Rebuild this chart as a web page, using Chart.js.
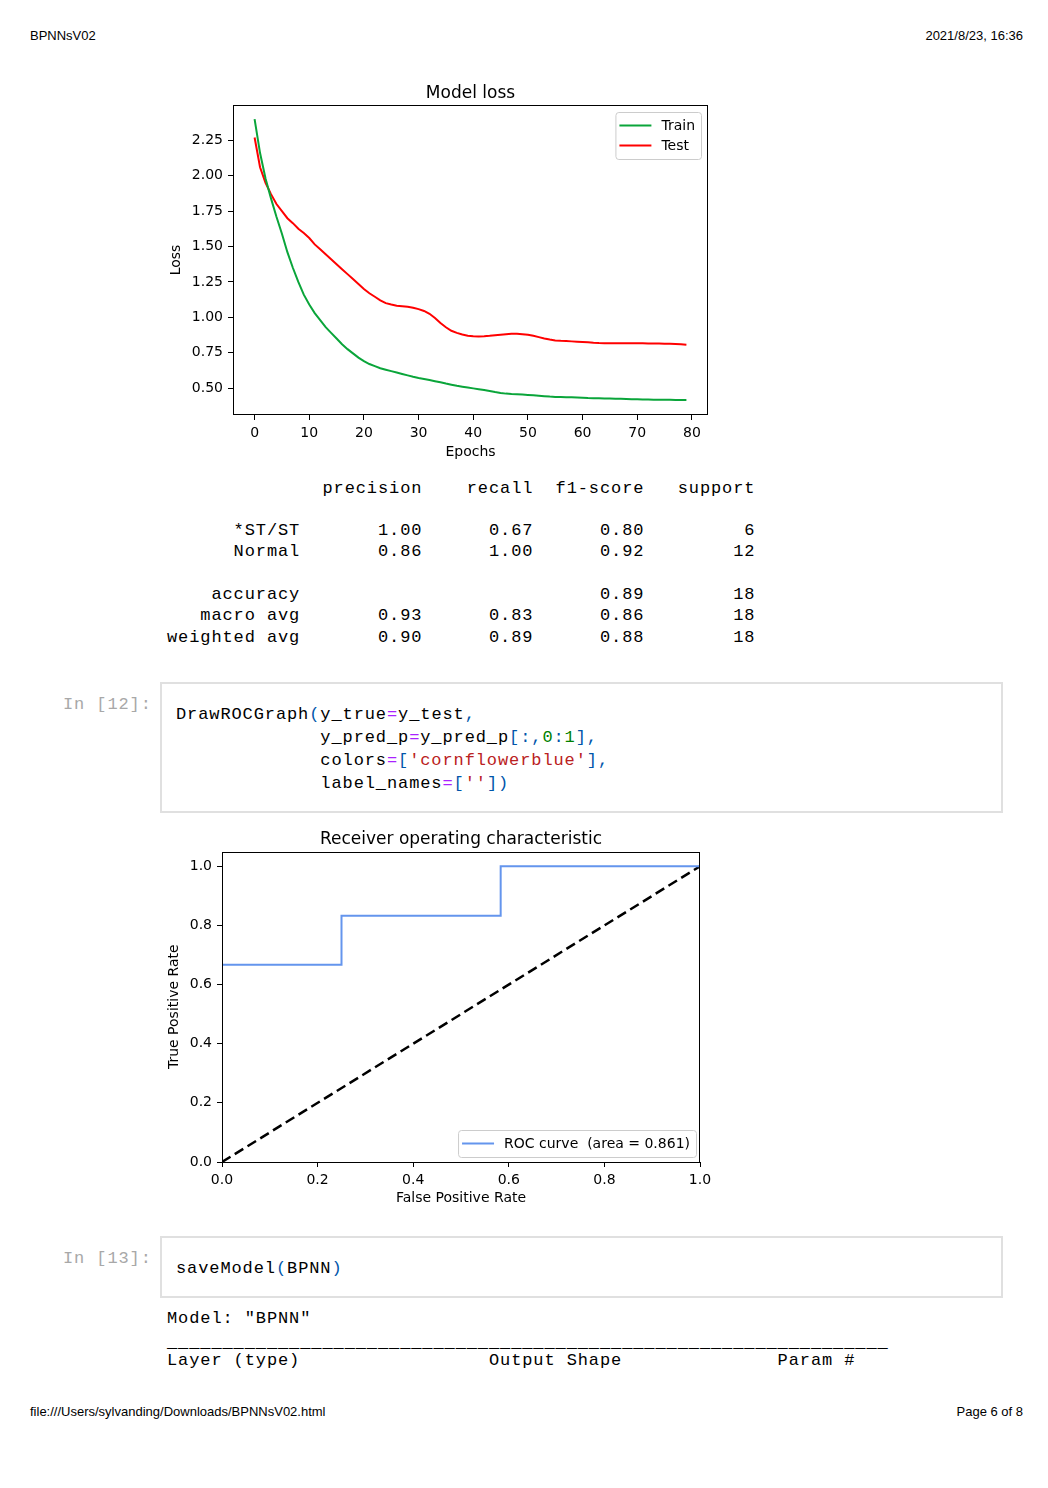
<!DOCTYPE html>
<html>
<head>
<meta charset="utf-8">
<title>BPNNsV02</title>
<script src="https://cdn.jsdelivr.net/npm/chart.js@4.4.1/dist/chart.umd.min.js"></script>
<style>
  body { margin: 0; background: #fff; width: 1048px; height: 1488px; position: relative; font-family: "Liberation Sans", Arial, sans-serif; }
  .hdr { position: absolute; font-size: 13px; line-height: 15px; color: #000; white-space: nowrap; }
  pre { position: absolute; margin: 0; font-family: "Liberation Mono", monospace; font-size: 17px; letter-spacing: 0.9px; line-height: 21.3px; color: #000; }
  pre.code { line-height: 23px; }
  .cell { position: absolute; left: 160px; width: 843px; border: 2px solid #e0e0e0; box-sizing: border-box; }
  .prompt { color: #a8a8a8; }
  .op { color: #aa22ff; }
  .p { color: #0055aa; }
  .n { color: #008000; }
  .s { color: #ba2121; }
  .rule { position: relative; top: 3px; }
  .chart { position: absolute; left: 160px; width: 560px; height: 400px; }
</style>
</head>
<body>

<div class="hdr" style="left:30px; top:28px;">BPNNsV02</div>
<div class="hdr" style="right:25px; top:28px;">2021/8/23, 16:36</div>

<div class="chart" style="top:70px;"><canvas id="lossChart"></canvas></div>

<pre style="left:167px; top:477.5px;">              precision    recall  f1-score   support

      *ST/ST       1.00      0.67      0.80         6
      Normal       0.86      1.00      0.92        12

    accuracy                           0.89        18
   macro avg       0.93      0.83      0.86        18
weighted avg       0.90      0.89      0.88        18</pre>

<pre class="code prompt" style="left:63px; top:692.5px;">In [12]:</pre>
<div class="cell" style="top:682px; height:131px;"></div>
<pre class="code" style="left:176px; top:702.5px;">DrawROCGraph<span class="p">(</span>y_true<span class="op">=</span>y_test<span class="p">,</span>
             y_pred_p<span class="op">=</span>y_pred_p<span class="p">[:,</span><span class="n">0</span><span class="p">:</span><span class="n">1</span><span class="p">],</span>
             colors<span class="op">=</span><span class="p">[</span><span class="s">'cornflowerblue'</span><span class="p">],</span>
             label_names<span class="op">=</span><span class="p">[</span><span class="s">''</span><span class="p">])</span></pre>

<div class="chart" style="top:815px;"><canvas id="rocChart"></canvas></div>

<pre class="code prompt" style="left:63px; top:1246.5px;">In [13]:</pre>
<div class="cell" style="top:1236px; height:62px;"></div>
<pre class="code" style="left:176px; top:1256.5px;">saveModel<span class="p">(</span>BPNN<span class="p">)</span></pre>

<pre style="left:167px; top:1307.5px;">Model: "BPNN"
<span class="rule">_________________________________________________________________</span>
Layer (type)                 Output Shape              Param #   </pre>

<div class="hdr" style="left:30px; top:1404px;">file:///Users/sylvanding/Downloads/BPNNsV02.html</div>
<div class="hdr" style="right:25px; top:1404px;">Page 6 of 8</div>

<script>
// loss history
const epochs = [0, 1, 2, 3, 4, 5, 6, 7, 8, 9, 10, 11, 12, 13, 14, 15, 16, 17, 18, 19,
  20, 21, 22, 23, 24, 25, 26, 27, 28, 29, 30, 31, 32, 33, 34, 35, 36, 37, 38, 39,
  40, 41, 42, 43, 44, 45, 46, 47, 48, 49, 50, 51, 52, 53, 54, 55, 56, 57, 58, 59,
  60, 61, 62, 63, 64, 65, 66, 67, 68, 69, 70, 71, 72, 73, 74, 75, 76, 77, 78, 79];

const trainLoss = [2.40, 2.16, 1.98, 1.84, 1.71, 1.59, 1.46, 1.35, 1.25, 1.16,
  1.09, 1.03, 0.98, 0.93, 0.89, 0.85, 0.81, 0.775, 0.745, 0.715,
  0.69, 0.67, 0.655, 0.64, 0.63, 0.62, 0.61, 0.60, 0.59, 0.58,
  0.572, 0.565, 0.557, 0.549, 0.541, 0.532, 0.524, 0.516, 0.510, 0.504,
  0.498, 0.492, 0.486, 0.479, 0.472, 0.466, 0.461, 0.458, 0.456, 0.454,
  0.452, 0.449, 0.446, 0.443, 0.440, 0.438, 0.437, 0.436, 0.436, 0.434,
  0.432, 0.430, 0.429, 0.428, 0.427, 0.426, 0.425, 0.424, 0.423, 0.422,
  0.421, 0.420, 0.419, 0.418, 0.418, 0.417, 0.417, 0.416, 0.416, 0.416];

const testLoss = [2.27, 2.06, 1.95, 1.87, 1.80, 1.75, 1.70, 1.665, 1.625, 1.595,
  1.56, 1.515, 1.48, 1.445, 1.41, 1.375, 1.34, 1.305, 1.27, 1.235,
  1.20, 1.17, 1.145, 1.12, 1.10, 1.09, 1.082, 1.078, 1.074, 1.068,
  1.058, 1.045, 1.025, 0.995, 0.96, 0.93, 0.905, 0.89, 0.878, 0.87,
  0.866, 0.865, 0.866, 0.869, 0.873, 0.877, 0.881, 0.884, 0.884, 0.881,
  0.876, 0.869, 0.86, 0.851, 0.843, 0.837, 0.834, 0.832, 0.830, 0.828,
  0.826, 0.823, 0.820, 0.818, 0.817, 0.816, 0.816, 0.816, 0.816, 0.816,
  0.816, 0.816, 0.815, 0.815, 0.815, 0.814, 0.813, 0.812, 0.810, 0.807];

const lossTicksX = [0, 10, 20, 30, 40, 50, 60, 70, 80];
const lossTicksY = [0.50, 0.75, 1.00, 1.25, 1.50, 1.75, 2.00, 2.25];

// ROC curve points
const rocFpr = [0, 0, 0.25, 0.25, 0.583, 0.583, 1];
const rocTpr = [0, 0.667, 0.667, 0.833, 0.833, 1, 1];
const chanceFpr = [0, 1];
const chanceTpr = [0, 1];
const rocArea = 0.861;
const rocTicks = [0, 0.2, 0.4, 0.6, 0.8, 1.0];

Chart.defaults.font.family = "'DejaVu Sans', sans-serif";
Chart.defaults.font.size = 14;
Chart.defaults.color = '#000';

// matplotlib-ish frame plus a legend box inside the axes
const frameAndLegend = {
  id: 'frameAndLegend',
  afterDatasetsDraw(chart, args, opts) {
    const { ctx, chartArea: a } = chart;
    ctx.save();
    ctx.strokeStyle = '#000';
    ctx.lineWidth = 1;
    ctx.strokeRect(Math.round(a.left) + 0.5, Math.round(a.top) + 0.5,
      Math.round(a.right - a.left) - 1, Math.round(a.bottom - a.top) - 1);

    const items = chart.data.datasets.filter(d => d.label);
    ctx.font = "14px 'DejaVu Sans', sans-serif";
    const textW = Math.max(...items.map(d => ctx.measureText(d.label).width));
    const w = 4 + 32 + 10 + textW + 6;
    const h = 7 + 20 * items.length;
    const x = a.right - opts.dx - w;
    const y = opts.corner === 'top' ? a.top + opts.dy : a.bottom - opts.dy - h;
    ctx.beginPath();
    ctx.roundRect(x + 0.5, y + 0.5, w, h, 3);
    ctx.fillStyle = 'rgba(255,255,255,0.8)';
    ctx.fill();
    ctx.strokeStyle = '#cccccc';
    ctx.stroke();
    items.forEach((d, i) => {
      const cy = y + 3.5 + 10 + i * 20;
      ctx.beginPath();
      ctx.moveTo(x + 4, cy);
      ctx.lineTo(x + 36, cy);
      ctx.strokeStyle = d.borderColor;
      ctx.lineWidth = 2;
      ctx.stroke();
      ctx.fillStyle = '#000';
      ctx.textBaseline = 'middle';
      ctx.fillText(d.label, x + 46, cy + 1);
    });
    ctx.restore();
  }
};

const axisGrid = { display: true, drawOnChartArea: false, drawTicks: true, tickLength: 5, color: '#000', lineWidth: 1 };

new Chart(document.getElementById('lossChart'), {
  type: 'line',
  data: {
    datasets: [
      {
        label: 'Train',
        data: epochs.map((e, i) => ({ x: e, y: trainLoss[i] })),
        borderColor: '#0aa53a',
        borderWidth: 2,
        pointRadius: 0,
        tension: 0
      },
      {
        label: 'Test',
        data: epochs.map((e, i) => ({ x: e, y: testLoss[i] })),
        borderColor: '#ff0000',
        borderWidth: 2,
        pointRadius: 0,
        tension: 0
      }
    ]
  },
  options: {
    responsive: true,
    maintainAspectRatio: false,
    animation: false,
    layout: { padding: { left: 0, right: 12, top: 0, bottom: 0 } },
    plugins: {
      legend: { display: false },
      tooltip: { enabled: false },
      title: {
        display: true, text: 'Model loss', fullSize: false, color: '#000',
        font: { size: 17, weight: 'normal' }, padding: { top: 13, bottom: 1.6 }
      },
      frameAndLegend: { corner: 'top', dx: 7, dy: 7 }
    },
    scales: {
      x: {
        type: 'linear', min: -3.95, max: 82.95,
        afterBuildTicks: s => { s.ticks = lossTicksX.map(v => ({ value: v })); },
        afterFit: s => { s.height = 55; },
        grid: axisGrid,
        border: { display: false },
        ticks: { autoSkip: false, maxRotation: 0, padding: 5, callback: v => String(v) },
        title: { display: true, text: 'Epochs', font: { size: 14 }, padding: { top: 0, bottom: 9 } }
      },
      y: {
        type: 'linear', min: 0.31, max: 2.4995,
        afterBuildTicks: s => { s.ticks = lossTicksY.map(v => ({ value: v })); },
        afterFit: s => { s.width = 73; },
        grid: axisGrid,
        border: { display: false },
        ticks: { autoSkip: false, padding: 5, callback: v => v.toFixed(2) },
        title: { display: true, text: 'Loss', font: { size: 14 }, padding: { top: 7.6, bottom: 0 } }
      }
    }
  },
  plugins: [frameAndLegend]
});

new Chart(document.getElementById('rocChart'), {
  type: 'line',
  data: {
    datasets: [
      {
        label: 'ROC curve  (area = ' + rocArea.toFixed(3) + ')',
        data: rocFpr.map((f, i) => ({ x: f, y: rocTpr[i] })),
        borderColor: '#6495ed',
        borderWidth: 2,
        pointRadius: 0,
        tension: 0
      },
      {
        label: '',
        data: chanceFpr.map((f, i) => ({ x: f, y: chanceTpr[i] })),
        borderColor: '#000',
        borderWidth: 2.5,
        borderDash: [10, 5],
        pointRadius: 0,
        tension: 0
      }
    ]
  },
  options: {
    responsive: true,
    maintainAspectRatio: false,
    animation: false,
    layout: { padding: { left: 0, right: 20, top: 0, bottom: 0 } },
    plugins: {
      legend: { display: false },
      tooltip: { enabled: false },
      title: {
        display: true, text: 'Receiver operating characteristic', fullSize: false, color: '#000',
        font: { size: 17, weight: 'normal' }, padding: { top: 14.3, bottom: 1.8 }
      },
      frameAndLegend: { corner: 'bottom', dx: 4, dy: 5 }
    },
    scales: {
      x: {
        type: 'linear', min: 0, max: 1,
        afterBuildTicks: s => { s.ticks = rocTicks.map(v => ({ value: v })); },
        afterFit: s => { s.height = 53; },
        grid: axisGrid,
        border: { display: false },
        ticks: { autoSkip: false, maxRotation: 0, padding: 5, callback: v => v.toFixed(1) },
        title: { display: true, text: 'False Positive Rate', font: { size: 14 }, padding: { top: 0, bottom: 8 } }
      },
      y: {
        type: 'linear', min: 0, max: 1.05,
        afterBuildTicks: s => { s.ticks = rocTicks.map(v => ({ value: v })); },
        afterFit: s => { s.width = 62; },
        grid: axisGrid,
        border: { display: false },
        ticks: { autoSkip: false, padding: 5, callback: v => v.toFixed(1) },
        title: { display: true, text: 'True Positive Rate', font: { size: 14 }, padding: { top: 5.6, bottom: 0 } }
      }
    }
  },
  plugins: [frameAndLegend]
});
</script>
</body>
</html>
